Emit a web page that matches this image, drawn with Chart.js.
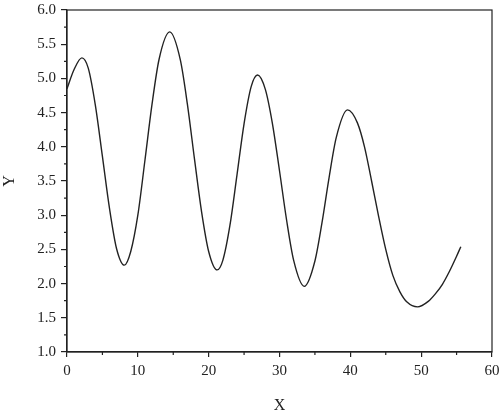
<!DOCTYPE html>
<html>
<head>
<meta charset="utf-8">
<script src="https://cdn.jsdelivr.net/npm/chart.js@4"></script>
<style>
  html, body { margin: 0; padding: 0; background: #fff; }
  #wrap { width: 500px; height: 416px; }
</style>
</head>
<body>
<div id="wrap"><canvas id="myChart" width="500" height="416"></canvas></div>
<script>
const xValues = [0, 1, 2.1, 3, 4, 5, 6, 7, 8.1, 9, 10, 11, 12, 13, 14.5, 16, 17, 18, 19, 20, 21.2,
  22, 23, 24, 25, 26, 26.9, 28, 29, 30, 31, 32, 33.5, 35, 36, 37, 38, 39.6,
  41, 42, 43, 44, 45, 46, 47, 48, 49.5, 51, 52, 53, 54, 55, 55.6];
const yValues = [4.85, 5.13, 5.30, 5.15, 4.61, 3.86, 3.10, 2.51, 2.27, 2.47, 3.0, 3.8, 4.62, 5.28, 5.68, 5.27, 4.62, 3.82, 3.05, 2.47, 2.20,
  2.34, 2.85, 3.59, 4.34, 4.88, 5.05, 4.84, 4.34, 3.65, 2.93, 2.34, 1.96, 2.33, 2.89, 3.55, 4.13, 4.54,
  4.35, 4.0, 3.5, 2.98, 2.5, 2.12, 1.88, 1.73, 1.66, 1.74, 1.85, 1.99, 2.18, 2.40, 2.54];
const xMinorTicks = [5, 15, 25, 35, 45, 55];
const yMinorTicks = [1.25, 1.75, 2.25, 2.75, 3.25, 3.75, 4.25, 4.75, 5.25, 5.75];

const ink = "#222";
const serif = "'Liberation Serif', 'DejaVu Serif', serif";

// box round the plot plus short minor ticks
const framePlugin = {
  id: "frame",
  afterDraw(chart) {
    const { ctx, chartArea: a, scales } = chart;
    ctx.save();
    ctx.strokeStyle = ink;
    ctx.lineWidth = 1.2;
    ctx.strokeRect(a.left, a.top, a.right - a.left, a.bottom - a.top);
    ctx.beginPath();
    xMinorTicks.forEach((v) => {
      const px = scales.x.getPixelForValue(v);
      ctx.moveTo(px, a.bottom);
      ctx.lineTo(px, a.bottom + 3);
    });
    yMinorTicks.forEach((v) => {
      const py = scales.y.getPixelForValue(v);
      ctx.moveTo(a.left, py);
      ctx.lineTo(a.left - 3, py);
    });
    ctx.stroke();
    ctx.restore();
  },
};

const ctx = document.getElementById("myChart");

new Chart(ctx, {
  type: "line",
  data: {
    datasets: [
      {
        data: xValues.map((x, i) => ({ x: x, y: yValues[i] })),
        borderColor: ink,
        borderWidth: 1.4,
        pointRadius: 0,
        fill: false,
        cubicInterpolationMode: "monotone",
      },
    ],
  },
  options: {
    responsive: false,
    animation: false,
    layout: { padding: { left: 0, top: 10, right: 8, bottom: 0 } },
    plugins: { legend: { display: false }, tooltip: { enabled: false } },
    scales: {
      x: {
        type: "linear",
        min: 0,
        max: 60,
        afterFit: (scale) => {
          scale.height = 64;
          scale.paddingLeft = 0;
          scale.paddingRight = 0;
        },
        border: { color: ink, width: 1.2 },
        grid: { drawOnChartArea: false, tickLength: 5, color: ink, lineWidth: 1.2 },
        ticks: { stepSize: 10, padding: 5, color: ink, font: { family: serif, size: 15 } },
        title: { display: true, text: "X", color: ink, padding: { top: 0, bottom: 1 }, font: { family: serif, size: 16 } },
      },
      y: {
        min: 1,
        max: 6,
        afterFit: (scale) => {
          scale.width = 67;
          scale.paddingTop = 0;
          scale.paddingBottom = 0;
        },
        border: { color: ink, width: 1.2 },
        grid: { drawOnChartArea: false, tickLength: 6, color: ink, lineWidth: 1.2 },
        ticks: {
          stepSize: 0.5,
          padding: 5,
          color: ink,
          font: { family: serif, size: 15 },
          callback: (v) => Number(v).toFixed(1),
        },
        title: { display: true, text: "Y", color: ink, padding: { top: 0, bottom: 0 }, font: { family: serif, size: 16 } },
      },
    },
  },
  plugins: [framePlugin],
});
</script>
</body>
</html>
